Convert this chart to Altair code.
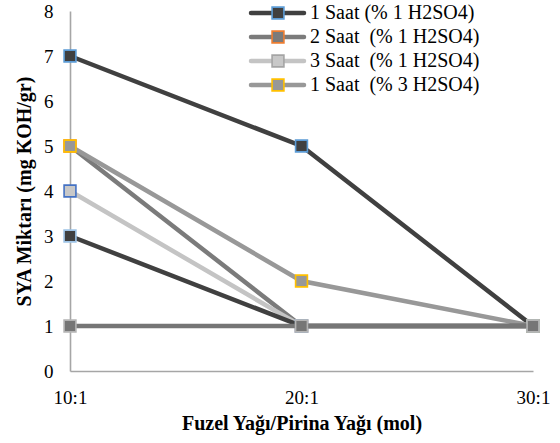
import altair as alt
import pandas as pd

NB = "\u00a0"
categories = ["10:1", "20:1", "30:1"]
series_names = [
    "1 Saat (% 1 H2SO4)",
    "2 Saat" + NB + " (% 1 H2SO4)",
    "3 Saat" + NB + " (% 1 H2SO4)",
    "1 Saat" + NB + " (% 3 H2SO4)",
    "Seri 5",
    "Seri 6",
]
s1 = [7, 5, 1]
s2 = [5, 1, 1]
s3 = [4, 1, 1]
s4 = [5, 2, 1]
s5 = [3, 1, 1]
s6 = [1, 1, 1]
series_values = [s1, s2, s3, s4, s5, s6]
legend_names = series_names[:4]

line_colors = ["#404040", "#7b7b7b", "#c4c4c4", "#989898", "#404040", "#767676"]
fill_colors = ["#404040", "#7b7b7b", "#c8c8c8", "#989898", "#404040", "#767676"]
edge_colors = ["#5b9bd5", "#ed7d31", "#4472c4", "#ffc000", "#9dc3e6", "#b4b4b4"]
legend_edge_colors = ["#5b9bd5", "#ed7d31", "#a5a5a5", "#ffc000"]

rows = []
for name, vals in zip(series_names, series_values):
    for c, v in zip(categories, vals):
        rows.append({"series": name, "cat": c, "val": v})
df = pd.DataFrame(rows)

FONT = "Liberation Serif"

x_enc = alt.X(
    "cat:N",
    sort=categories,
    scale=alt.Scale(domain=categories, type="point", padding=0),
    axis=alt.Axis(title="Fuzel Yağı/Pirina Yağı (mol)", labelAngle=0,
                  labelPadding=17, titlePadding=6),
)
y_enc = alt.Y(
    "val:Q",
    scale=alt.Scale(domain=[0, 8], nice=False, zero=True),
    axis=alt.Axis(title="SYA Miktarı (mg KOH/gr)", values=list(range(9)),
                  labelPadding=17, titlePadding=9, format="d"),
)
color_enc = alt.Color("series:N", scale=alt.Scale(domain=series_names, range=line_colors), legend=None)
fill_enc = alt.Fill("series:N", scale=alt.Scale(domain=series_names, range=fill_colors), legend=None)
stroke_enc = alt.Stroke("series:N", scale=alt.Scale(domain=series_names, range=edge_colors), legend=None)

layers = []
for name in series_names:
    d = df[df["series"] == name]
    base = alt.Chart(d)
    layers.append(base.mark_line(strokeWidth=4.5).encode(x=x_enc, y=y_enc, color=color_enc))
    layers.append(
        base.mark_point(shape="square", filled=True, size=140, strokeWidth=1.6, opacity=1)
        .encode(x=x_enc, y=y_enc, fill=fill_enc, stroke=stroke_enc)
    )
main = alt.layer(*layers)

leg_df = pd.DataFrame({"series": legend_names})
leg_y = alt.Y("series:N", scale=alt.Scale(domain=legend_names, type="point", range=[2, 74], padding=0), axis=None)
leg_base = alt.Chart(leg_df)
leg_lines = leg_base.mark_rule(strokeWidth=4.5, strokeCap="round").encode(
    x=alt.value(181), x2=alt.value(234), y=leg_y, color=color_enc)
leg_pts = leg_base.mark_point(shape="square", filled=True, size=140, strokeWidth=1.6, opacity=1).encode(
    x=alt.value(208), y=leg_y, fill=fill_enc,
    stroke=alt.Stroke("series:N", scale=alt.Scale(domain=legend_names, range=legend_edge_colors), legend=None))
leg_text = leg_base.mark_text(align="left", baseline="middle", font=FONT, fontSize=20, color="black").encode(
    x=alt.value(240), y=leg_y, text="series:N")
legend = alt.layer(leg_lines, leg_pts, leg_text)

chart = (
    alt.layer(main, legend)
    .resolve_scale(y="independent", stroke="independent")
    .properties(
        width=463, height=360,
        padding={"left": 70, "top": 11, "right": 27, "bottom": 72},
        autosize=alt.AutoSizeParams(type="none"),
    )
    .configure_view(stroke=None)
    .configure_axis(
        domainColor="#a6a6a6", domainWidth=1.6, ticks=False, tickSize=0, grid=False,
        labelFont=FONT, labelFontSize=19, labelColor="black",
        titleFont=FONT, titleFontSize=20, titleFontWeight="bold", titleColor="black",
    )
)

chart.save("out.html", embed_options={"renderer": "svg", "actions": False})
